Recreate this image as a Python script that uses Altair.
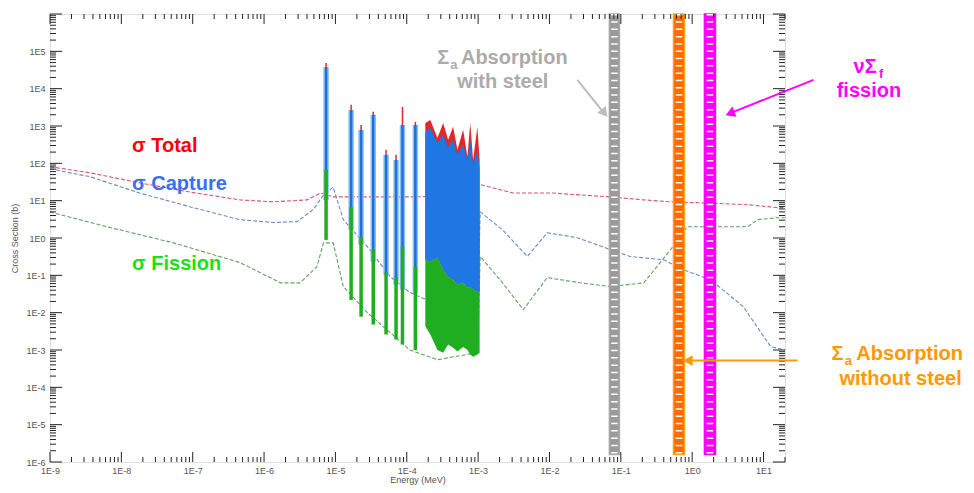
import altair as alt
import pandas as pd

# ---------------- data (energy in MeV, cross section in barns) ----------------
total_E = [1e-9, 3.6e-9, 1.8e-8, 9.1e-8, 4.6e-7, 1.35e-6, 4.0e-6, 6.2e-6, 9.3e-6, 3.0e-5,
           1.0e-4, 3.0e-4, 1.07e-3, 3.1e-3, 1.1e-2, 7.1e-2, 0.21, 0.5, 1.45, 6.0, 15.8, 20]
total_S = [81, 56, 30, 17, 10.5, 9.3, 10.5, 16, 12.6, 12.6,
           12.6, 13, 27, 16, 16, 12.6, 10.5, 9.3, 8.7, 7.8, 6.5, 6.5]

cap_E = [1e-9, 3.6e-9, 1.8e-8, 9.1e-8, 4.6e-7, 1.35e-6, 2.9e-6, 4.9e-6, 6.5e-6, 9.3e-6,
         1.29e-5, 2.8e-5, 5.9e-5, 1.1e-4, 1.9e-4, 1.0e-3, 1.07e-3, 2.2e-3, 4.9e-3, 9.3e-3,
         2.45e-2, 7.1e-2, 0.135, 0.40, 0.76, 1.82, 5.2, 12.6, 20]
cap_S = [71, 44, 16, 6.9, 3.1, 2.6, 2.75, 5.8, 12.6, 23,
         3.1, 0.59, 0.091, 0.035, 0.022, 0.035, 5.0, 1.66, 0.32, 1.38,
         1.02, 0.49, 0.32, 0.26, 0.14, 0.076, 0.0145, 1.23e-3, 1.0e-3]

fis_E = [1e-9, 6.3e-9, 5.4e-8, 4.6e-7, 1.7e-6, 3.2e-6, 5.5e-6, 6.8e-6, 9.3e-6, 1.29e-5,
         2.8e-5, 5.9e-5, 1.1e-4, 2.7e-4, 9.8e-4, 1.07e-3, 2.2e-3, 4.3e-3, 9.3e-3, 2.7e-2,
         7.1e-2, 0.21, 0.5, 0.85, 1.45, 6.0, 8.3, 15.8, 20]
fis_S = [5.0, 2.0, 0.74, 0.22, 0.063, 0.063, 0.17, 0.74, 0.74, 0.05,
         0.01, 2.9e-3, 1.0e-3, 5.5e-4, 8.5e-4, 0.32, 0.063, 0.012, 0.087, 0.063,
         0.05, 0.063, 0.49, 2.0, 2.0, 2.0, 3.1, 3.5, 3.5]

# isolated resolved resonances
res_E = [7.4e-6, 1.66e-5, 2.29e-5, 3.39e-5, 5.13e-5, 7.08e-5, 8.71e-5, 1.32e-4]
res_total_peak = [4.9e4, 3700, 1070, 2400, 230, 170, 3240, 1290]
res_total_base = [12.6, 12.6, 12.6, 12.6, 12.6, 12.6, 12.6, 12.6]
res_cap_peak = [3.8e4, 2700, 790, 2000, 170, 123, 1070, 1070]
res_cap_base = [10.5, 1.66, 0.66, 0.23, 0.1, 0.056, 0.042, 0.033]
res_fis_peak = [68, 6.9, 1.07, 0.49, 0.12, 0.091, 0.59, 0.17]
res_fis_base = [0.89, 0.022, 0.0078, 0.0048, 0.0026, 0.0019, 0.0014, 0.001]

# dense resonance block
blk_E = [1.82e-4, 2.14e-4, 2.69e-4, 3.24e-4, 3.80e-4, 4.47e-4, 5.13e-4, 6.17e-4,
         7.08e-4, 7.76e-4, 8.51e-4, 9.77e-4, 1.05e-3]
blk_total_top = [1200, 1450, 480, 1200, 430, 950, 230, 790, 150, 1200, 123, 950, 123]
blk_cap_top = [690, 890, 355, 575, 275, 430, 170, 316, 123, 430, 91, 230, 68]
blk_fis_top = [0.26, 0.23, 0.30, 0.14, 0.091, 0.076, 0.056, 0.063, 0.047, 0.05, 0.042, 0.036, 0.035]
blk_fis_bot = [4.3e-3, 2.6e-3, 1.0e-3, 8.5e-4, 1.4e-3, 1.15e-3, 9.1e-4, 1.2e-3, 1.0e-3,
               7.6e-4, 6.6e-4, 7.6e-4, 8.5e-4]

# macroscopic one-group bars
bar_name = ["absorption with steel", "absorption without steel", "nu-fission"]
bar_left = [0.0692, 0.547, 1.486]
bar_right = [0.0955, 0.78, 2.12]
bar_top = [1e6, 1e6, 1e6]
bar_bottom = [1.58e-6, 1.58e-6, 1.58e-6]
bar_fill = ["#9a9a9a", "#ff6a00", "#ff00ff"]
bar_stroke = ["#a8a8a8", "#ffa31a", "#ff00ff"]

# annotation texts
ann_text = ["σ Total", "σ Capture", "σ Fission",
            "Σ", "a", "Absorption", "with steel",
            "νΣ", "f", "fission",
            "Σ", "a", "Absorption", "without steel"]
ann_E = [1.41e-8, 1.41e-8, 1.41e-8,
         2.68e-4, 4.07e-4, 5.75e-4, 5.1e-4,
         183, 415, 106,
         90, 137, 200, 116]
ann_S = [204, 19.6, 0.1416,
         4.61e4, 3.39e4, 4.61e4, 1.05e4,
         2.65e4, 1.95e4, 6040,
         5.53e-4, 4.06e-4, 5.53e-4, 1.19e-4]
ann_size = [20, 20, 20, 20, 13, 20, 20, 20, 13, 20, 20, 13, 20, 20]
ann_color = ["#ff0000", "#3d6ef2", "#19e019",
             "#ababab", "#ababab", "#ababab", "#ababab",
             "#ff00ff", "#ff00ff", "#ff00ff",
             "#ff9900", "#ff9900", "#ff9900", "#ff9900"]

# arrows
arr_E1 = [0.0246, 50.2, 30.0]
arr_S1 = [1.72e4, 1.72e4, 5.2e-4]
arr_E2 = [0.0535, 3.79, 1.01]
arr_S2 = [2710, 2390, 5.2e-4]
head_E = [0.0570, 3.56, 0.917]
head_S = [2390, 2250, 5.2e-4]
head_angle = [141, 248, 270]
arr_color = ["#bdbdbd", "#ff00ff", "#ff9900"]

# axis ticks
x_major = [1e-9, 1e-8, 1e-7, 1e-6, 1e-5, 1e-4, 1e-3, 1e-2, 1e-1, 1e0, 1e1]
y_major = [1e-6, 1e-5, 1e-4, 1e-3, 1e-2, 1e-1, 1e0, 1e1, 1e2, 1e3, 1e4, 1e5, 1e6]
x_minor = [m * d for d in x_major for m in range(2, 10) if m * d <= 20]
y_minor = [m * d for d in y_major[:-1] for m in range(2, 10)]

# ---------------- chart ----------------
W, H = 735, 448
xs = alt.Scale(type="log", domain=[1e-9, 20], nice=False)
ys = alt.Scale(type="log", domain=[1e-6, 1e6], nice=False)
FONT = "Liberation Sans"

x_axis = alt.Axis(values=x_major, labelExpr="'1E' + round(log(datum.value)/LN10)",
                  ticks=False, domain=False, grid=False, labelFont=FONT, labelFontSize=9,
                  labelColor="#555", labelPadding=4, labelOverlap=False, labelFlush=False,
                  title="Energy (MeV)", titleFont=FONT, titleFontSize=9,
                  titleFontWeight="normal", titleColor="#555", titlePadding=0)
y_axis = alt.Axis(values=y_major[:-1], labelExpr="'1E' + round(log(datum.value)/LN10)",
                  ticks=False, domain=False, grid=False, labelFont=FONT, labelFontSize=9,
                  labelColor="#555", labelPadding=5, labelOverlap=False, labelFlush=False,
                  title="Cross Section (b)", titleFont=FONT, titleFontSize=9,
                  titleFontWeight="normal", titleColor="#555", titlePadding=6)


def X(f):
    return alt.X(f, type="quantitative", scale=xs, axis=x_axis)


def Y(f):
    return alt.Y(f, type="quantitative", scale=ys, axis=y_axis)


df_total = pd.DataFrame({"E": total_E, "S": total_S})
df_cap = pd.DataFrame({"E": cap_E, "S": cap_S})
df_fis = pd.DataFrame({"E": fis_E, "S": fis_S})
df_res = pd.DataFrame({"E": res_E, "tp": res_total_peak, "tb": res_total_base,
                       "cp": res_cap_peak, "cb": res_cap_base,
                       "fp": res_fis_peak, "fb": res_fis_base})
df_blk = pd.DataFrame({"E": blk_E, "tt": blk_total_top, "ct": blk_cap_top,
                       "ft": blk_fis_top, "fb": blk_fis_bot})
df_bar = pd.DataFrame({"name": bar_name, "l": bar_left, "r": bar_right, "t": bar_top,
                       "b": bar_bottom, "fill": bar_fill, "stroke": bar_stroke})
df_ann = pd.DataFrame({"E": ann_E, "S": ann_S, "text": ann_text, "size": ann_size,
                       "color": ann_color})
df_arr = pd.DataFrame({"E1": arr_E1, "S1": arr_S1, "E2": arr_E2, "S2": arr_S2,
                       "color": arr_color})
df_head = pd.DataFrame({"E": head_E, "S": head_S, "angle": head_angle, "color": arr_color})

dash = [4, 2]
total_line = alt.Chart(df_total).mark_line(color="#d9546a", strokeWidth=1.1, strokeDash=dash).encode(
    x=X("E"), y=Y("S"))
cap_line = alt.Chart(df_cap).mark_line(color="#6a8cc0", strokeWidth=1.1, strokeDash=dash).encode(
    x=X("E"), y=Y("S"))
fis_line = alt.Chart(df_fis).mark_line(color="#5fa35f", strokeWidth=1.1, strokeDash=dash).encode(
    x=X("E"), y=Y("S"))

res_total = alt.Chart(df_res).mark_rule(color="#e32a2a", strokeWidth=1.5).encode(
    x=X("E"), y=Y("tp"), y2="tb")
res_cap_pale = alt.Chart(df_res).mark_rule(color="#8cc0f2", strokeWidth=5.5).encode(
    x=X("E"), y=Y("cp"), y2="cb")
res_cap = alt.Chart(df_res).mark_rule(color="#1f6fdc", strokeWidth=2.5).encode(
    x=X("E"), y=Y("cp"), y2="cb")
res_fis = alt.Chart(df_res).mark_rule(color="#1fae1f", strokeWidth=3.5).encode(
    x=X("E"), y=Y("fp"), y2="fb")

blk_red = alt.Chart(df_blk).mark_area(color="#e4262a").encode(x=X("E"), y=Y("tt"), y2="ft")
blk_blue = alt.Chart(df_blk).mark_area(color="#1f77e3").encode(x=X("E"), y=Y("ct"), y2="ft")
blk_green = alt.Chart(df_blk).mark_area(color="#1fae22").encode(x=X("E"), y=Y("ft"), y2="fb")

bars = alt.Chart(df_bar).mark_rect(strokeWidth=1.5).encode(
    x=X("l"), x2="r", y=Y("t"), y2="b",
    fill=alt.Fill("fill:N", scale=None), stroke=alt.Stroke("stroke:N", scale=None))
bar_dashes = alt.Chart(df_bar).transform_calculate(c="sqrt(datum.l * datum.r)").mark_rule(
    color="white", strokeWidth=6.5, strokeDash=[1.5, 5.8]).encode(
    x=X("c:Q"), y=Y("t"), y2="b")

ticks = []
for vals, major in ((x_major, True), (x_minor, False)):
    L = 10 if major else 5
    d = pd.DataFrame({"v": vals})
    ticks.append(alt.Chart(d).mark_rule(color="#222", strokeWidth=1).encode(
        x=X("v"), y=alt.value(H), y2=alt.value(H - L)))
    ticks.append(alt.Chart(d).mark_rule(color="#222", strokeWidth=1).encode(
        x=X("v"), y=alt.value(0), y2=alt.value(L)))
for vals, major in ((y_major, True), (y_minor, False)):
    L = 12 if major else 6
    d = pd.DataFrame({"v": vals})
    ticks.append(alt.Chart(d).mark_rule(color="#222", strokeWidth=1).encode(
        y=Y("v"), x=alt.value(0), x2=alt.value(L)))
    ticks.append(alt.Chart(d).mark_rule(color="#222", strokeWidth=1).encode(
        y=Y("v"), x=alt.value(W), x2=alt.value(W - L)))

arrows = alt.Chart(df_arr).mark_rule(strokeWidth=2).encode(
    x=X("E1"), y=Y("S1"), x2="E2", y2="S2", color=alt.Color("color:N", scale=None))
heads = alt.Chart(df_head).mark_point(shape="triangle", filled=True, size=120, opacity=1).encode(
    x=X("E"), y=Y("S"), angle=alt.Angle("angle:Q", scale=None),
    color=alt.Color("color:N", scale=None))

texts = alt.Chart(df_ann).mark_text(align="left", baseline="alphabetic", font=FONT,
                                    fontWeight="bold").encode(
    x=X("E"), y=Y("S"), text="text:N", size=alt.Size("size:Q", scale=None),
    color=alt.Color("color:N", scale=None))

chart = alt.layer(
    total_line, cap_line, fis_line,
    res_total, res_cap_pale, res_cap, res_fis,
    blk_red, blk_blue, blk_green,
    bars, bar_dashes, *ticks, arrows, heads, texts
).properties(
    width=W, height=H,
    autosize=alt.AutoSizeParams(type="none"),
    padding={"left": 42, "top": 6, "right": 958 - 42 - W, "bottom": 477 - 6 - H},
).configure_view(stroke="#222", strokeWidth=1.5).configure(background="white")

chart.save("out.html", embed_options={"renderer": "svg", "actions": False})
